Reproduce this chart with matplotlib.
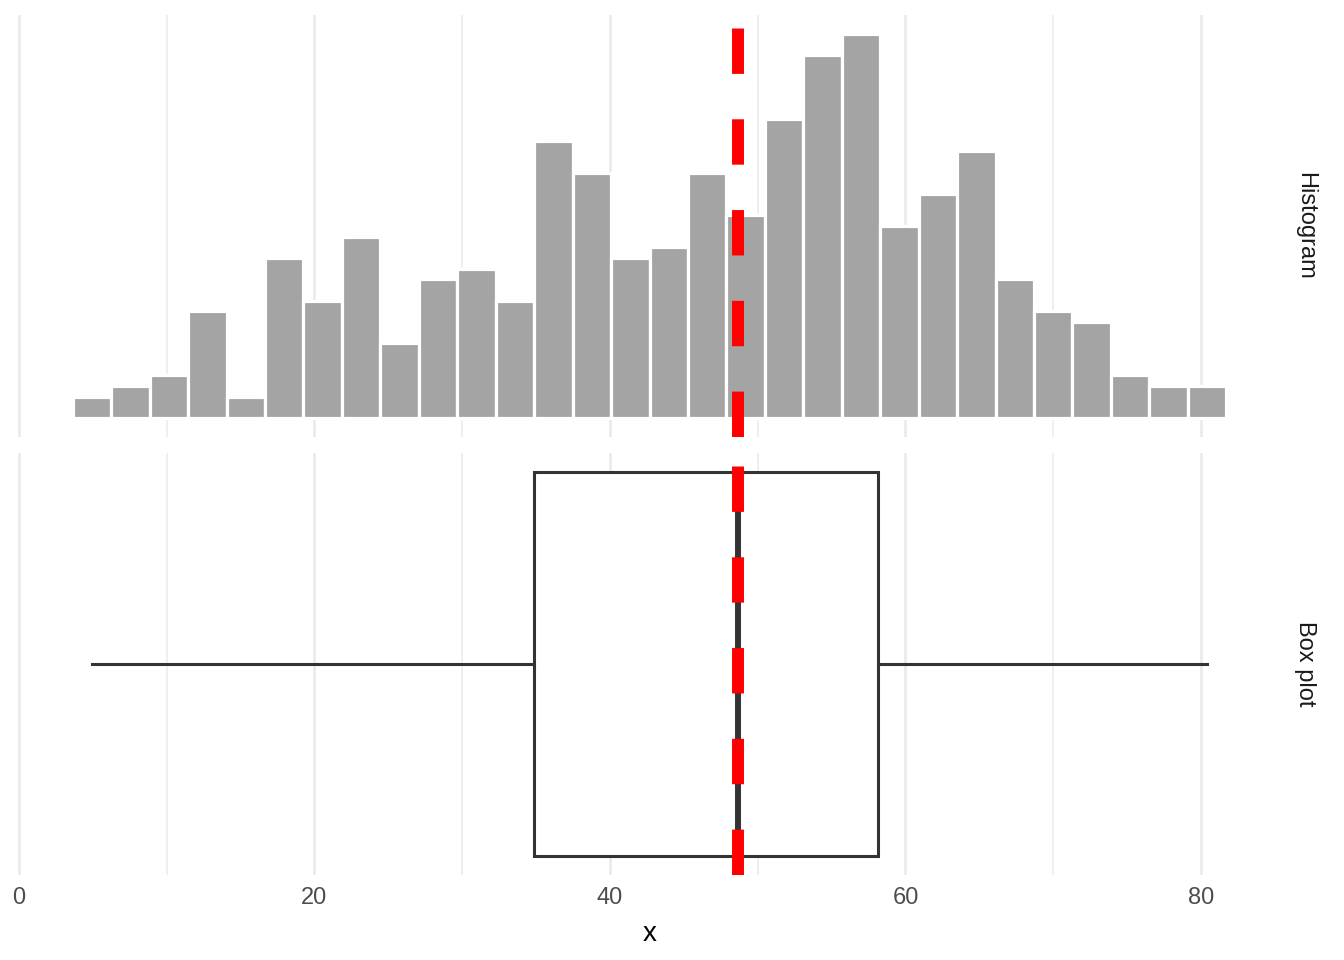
import numpy as np
import matplotlib
matplotlib.use("Agg")
import matplotlib.pyplot as plt

plt.rcParams['font.family'] = ['Liberation Sans', 'DejaVu Sans']

# ---- data ----
hist_counts = [2, 3, 4, 10, 2, 15, 11, 17, 7, 13, 14, 11, 26, 23, 15,
               16, 23, 19, 28, 34, 36, 18, 21, 25, 13, 10, 9, 4, 3, 3]
data_min = 4.94
data_max = 80.41
box_q1 = 34.86
box_median = 48.66
box_q3 = 58.14
ref_line = 48.66
x_ticks = [0, 20, 40, 60, 80]
x_minor = [10, 30, 50, 70]
facet_labels = ["Histogram", "Box plot"]
x_title = "x"

# ---- derived bin edges (ggplot-style bins=30 spanning min..max centers) ----
nb = len(hist_counts)
bw = (data_max - data_min) / (nb - 1)
edges = data_min - bw / 2 + bw * np.arange(nb + 1)

lo, hi = edges[0], edges[-1]
rng = hi - lo
xlim = (lo - 0.05 * rng, hi + 0.05 * rng)

W, H = 1344, 960
fig = plt.figure(figsize=(W / 100, H / 100), dpi=100)

left_px, right_px = 15.1, 1283.9
ax1 = fig.add_axes([left_px / W, 1 - 437 / H, (right_px - left_px) / W, 422 / H])
ax2 = fig.add_axes([left_px / W, 1 - 875 / H, (right_px - left_px) / W, 422 / H])

grid_col = '#EBEBEB'
for ax in (ax1, ax2):
    ax.set_xlim(*xlim)
    for s in ax.spines.values():
        s.set_visible(False)
    ax.set_xticks(x_ticks)
    ax.set_xticks(x_minor, minor=True)
    ax.grid(axis='x', which='major', color=grid_col, lw=2.0, zorder=0)
    ax.grid(axis='x', which='minor', color=grid_col, lw=1.1, zorder=0)
    ax.set_yticks([])
    ax.tick_params(axis='x', which='both', length=0)
    ax.set_axisbelow(True)

# histogram
ax1.bar(edges[:-1], hist_counts, width=bw, align='edge', color='#A4A4A4',
        edgecolor='white', linewidth=2.3, zorder=2)
ymax = max(hist_counts)
ax1.set_ylim(-0.05 * ymax, ymax * 1.05)
ax1.tick_params(axis='x', labelbottom=False)

# box plot
stats = [dict(whislo=data_min, q1=box_q1, med=box_median, q3=box_q3,
              whishi=data_max, fliers=[])]
ax2.bxp(stats, positions=[0], widths=0.75, orientation='horizontal',
        showcaps=False, showfliers=False, patch_artist=True,
        boxprops=dict(facecolor='white', edgecolor='#333333', linewidth=2.2),
        whiskerprops=dict(color='#333333', linewidth=2.2),
        medianprops=dict(color='#333333', linewidth=4.3, solid_capstyle='butt'),
        manage_ticks=False, zorder=2)
ax2.set_ylim(-0.4125, 0.4125)
ax2.set_xticks(x_ticks)
ax2.set_xticklabels([str(t) for t in x_ticks])
ax2.tick_params(axis='x', labelsize=17, labelcolor='#4D4D4D', pad=9)
ax2.set_xlabel(x_title, fontsize=20, color='black', labelpad=8)

# reference line
for ax in (ax1, ax2):
    ax.axvline(ref_line, ymin=0, ymax=1, color='#FF0000', lw=8.6,
               linestyle=(0, (3.8, 3.8)), zorder=5, dash_capstyle='butt')

# facet strips
fig.text(1305 / W, 1 - 226 / H, facet_labels[0], rotation=270, ha='center',
         va='center', fontsize=17, color='#1A1A1A')
fig.text(1305 / W, 1 - 664 / H, facet_labels[1], rotation=270, ha='center',
         va='center', fontsize=17, color='#1A1A1A')

fig.savefig('out.png', dpi=100, facecolor='white')
